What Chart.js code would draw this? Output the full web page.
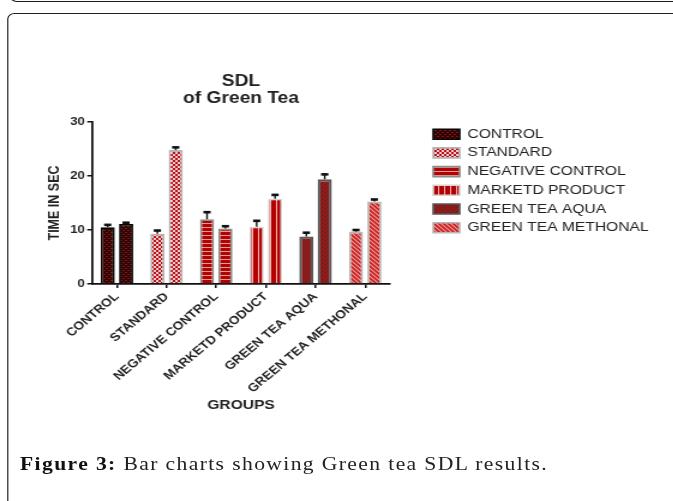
<!DOCTYPE html>
<html>
<head>
<meta charset="utf-8">
<script src="https://cdn.jsdelivr.net/npm/chart.js@4.4.1/dist/chart.umd.min.js"></script>
<style>
  html, body { margin: 0; padding: 0; background: #fff; width: 673px; height: 501px; overflow: hidden; }
  /* the whole figure is drawn 1.2x wider than tall */
  #page { position: absolute; left: 0; top: 0; width: 561px; height: 501px; transform: scaleX(1.2); transform-origin: 0 0; }
  .prev-box { position: absolute; left: 8px; top: -30px; width: 640px; height: 31.5px; box-sizing: border-box;
              border: 1.5px solid #1a1a1a; border-radius: 6px; }
  .frame { position: absolute; left: 5.5px; top: 12.5px; width: 640px; height: 600px; box-sizing: border-box;
           border: 1.5px solid #222; border-radius: 6px; }
  #chartBox { position: absolute; left: 0; top: 0; width: 561px; height: 430px; }
  .caption { position: absolute; left: 16.7px; top: 453px; font: 18px/22px "Liberation Serif", "Times New Roman", serif;
             letter-spacing: 1.15px; color: #222; white-space: nowrap; }
  .caption b { color: #111; }
</style>
</head>
<body>
<div id="page">
  <div class="prev-box"></div>
  <div class="frame"></div>
  <div id="chartBox"><canvas id="chart"></canvas></div>
  <div class="caption"><b>Figure 3:</b> Bar charts showing Green tea SDL results.</div>
</div>
<script>
// ---- data ----
const groups = ["CONTROL", "STANDARD", "NEGATIVE CONTROL", "MARKETD PRODUCT", "GREEN TEA AQUA", "GREEN TEA METHONAL"];
const seriesA = [10.5, 9.3, 12.0, 10.6, 8.8, 9.7];
const seriesB = [11.1, 24.8, 10.3, 15.8, 19.4, 15.3];
const semA = [0.45, 0.6, 1.3, 1.1, 0.7, 0.3];
const semB = [0.25, 0.5, 0.4, 0.7, 0.9, 0.35];
const yTicks = [0, 10, 20, 30];

const FAMILY = "'Liberation Sans', Arial, Helvetica, sans-serif";
const INK = '#222';

// ---- fill patterns, one per group ----
function tile(w, h, bg, paint) {
  const c = document.createElement('canvas');
  c.width = w; c.height = h;
  const g = c.getContext('2d');
  g.fillStyle = bg; g.fillRect(0, 0, w, h);
  paint(g);
  return g.createPattern(c, 'repeat');
}
function diag(g, color, width, rising) {
  g.strokeStyle = color; g.lineWidth = width; g.beginPath();
  if (rising) {
    g.moveTo(-1, 5); g.lineTo(5, -1);
    g.moveTo(-1, 1); g.lineTo(1, -1);
    g.moveTo(3, 5); g.lineTo(5, 3);
  } else {
    g.moveTo(-1, -1); g.lineTo(5, 5);
    g.moveTo(3, -1); g.lineTo(5, 1);
    g.moveTo(-1, 3); g.lineTo(1, 5);
  }
  g.stroke();
}
const fills = [
  tile(4, 4, '#2c0505', g => { g.fillStyle = '#8c1212'; g.fillRect(0, 0, 2, 1); g.fillRect(2, 2, 2, 1); }),
  tile(4, 4, '#e4d0d0', g => { g.fillStyle = '#c20c16'; g.fillRect(0, 0, 2, 2); g.fillRect(2, 2, 2, 2); }),
  tile(4, 4, '#b20202', g => { g.fillStyle = '#e69a9a'; g.fillRect(0, 3, 4, 1); }),
  tile(5, 4, '#b40000', g => { g.fillStyle = '#f0b6b6'; g.fillRect(0, 0, 1, 4); }),
  tile(4, 4, '#a51616', g => diag(g, '#5e2828', 1.2, true)),
  tile(4, 4, '#cc1e1e', g => diag(g, '#eba4a4', 1.1, false))
];
const borders = ['#050505', '#b4b4b4', '#8a8a8a', '#d4d4d4', '#585858', '#b8b8b8'];
const borderWidths = [1.8, 1.8, 1.8, 1.5, 2.2, 1.8];

// ---- legend placement: right edge padding so the legend boxes start at x = 361 ----
const LEGEND_PAD = 5.7;
const legendFont = "13px " + FAMILY;
const mctx = document.createElement('canvas').getContext('2d');
mctx.font = legendFont;
const textW = Math.max(...groups.map(t => mctx.measureText(t).width));
const legendW = LEGEND_PAD + 22 + 6.5 + textW + 10;
const padRight = Math.max(0, 561 - (361 - LEGEND_PAD) - legendW);
const gapWidth = (361 - LEGEND_PAD) - 325;

// ---- error bars (mean + SEM, upper whisker only) ----
const errorBars = {
  id: 'errorBars',
  afterDatasetsDraw(chart) {
    const { ctx } = chart;
    const y = chart.scales.y;
    const sems = [semA, semB];
    ctx.save();
    ctx.strokeStyle = '#111';
    ctx.fillStyle = '#111';
    chart.data.datasets.forEach((ds, i) => {
      chart.getDatasetMeta(i).data.forEach((bar, j) => {
        const top = y.getPixelForValue(ds.data[j] + sems[i][j]);
        ctx.lineWidth = 1.4;
        ctx.beginPath();
        ctx.moveTo(bar.x, bar.y);
        ctx.lineTo(bar.x, top);
        ctx.stroke();
        ctx.fillRect(bar.x - 3, top - 1.3, 6, 2.6);
      });
    });
    ctx.restore();
  }
};

new Chart(document.getElementById('chart'), {
  type: 'bar',
  data: {
    labels: groups,
    datasets: [
      { label: 'Series 1', data: seriesA, backgroundColor: fills, borderColor: borders, borderWidth: borderWidths },
      { label: 'Series 2', data: seriesB, backgroundColor: fills, borderColor: borders, borderWidth: borderWidths }
    ]
  },
  options: {
    responsive: true,
    maintainAspectRatio: false,
    animation: false,
    categoryPercentage: 0.74,
    barPercentage: 0.77,
    layout: { padding: { left: 10, top: 0, right: padRight, bottom: 17.2 } },
    plugins: {
      title: {
        display: true,
        text: ['SDL', 'of Green Tea'],
        fullSize: false,
        color: INK,
        font: { family: FAMILY, weight: 'bold', size: 16, lineHeight: 1.05 },
        padding: { top: 73, bottom: 15.4 }
      },
      legend: {
        position: 'right',
        align: 'start',
        fullSize: false,
        maxWidth: 400,
        onClick: null,
        labels: {
          boxWidth: 22,
          boxHeight: 10,
          padding: LEGEND_PAD,
          color: INK,
          font: { family: FAMILY, size: 13, lineHeight: 1.2 },
          generateLabels: () => groups.map((g, i) => ({
            text: g,
            fillStyle: fills[i],
            strokeStyle: borders[i],
            lineWidth: 1.6,
            fontColor: INK,
            hidden: false,
            datasetIndex: 0
          }))
        }
      },
      tooltip: { enabled: false }
    },
    scales: {
      x: {
        z: 1,
        afterFit: s => { s.height = 128.8; },
        border: { color: '#111', width: 1.8 },
        grid: { offset: false, drawOnChartArea: false, tickLength: 4, color: '#111', lineWidth: 1.5 },
        ticks: {
          autoSkip: false, maxRotation: 45, minRotation: 45, padding: 2,
          color: INK, font: { family: FAMILY, weight: 'bold', size: 11.5 }
        },
        title: {
          display: true, text: 'GROUPS', color: INK,
          font: { family: FAMILY, weight: 'bold', size: 13 },
          padding: { top: 0, bottom: 0 }
        }
      },
      y: {
        min: 0,
        max: 30,
        afterBuildTicks: s => { s.ticks = yTicks.map(v => ({ value: v })); },
        afterFit: s => { s.width = 66.7; },
        border: { color: '#111', width: 1.8 },
        grid: { drawOnChartArea: false, tickLength: 4, color: '#111', lineWidth: 1.5 },
        ticks: { padding: 2, color: INK, font: { family: FAMILY, weight: 'bold', size: 11 } },
        title: {
          display: true, text: 'TIME IN SEC', color: INK,
          font: { family: FAMILY, weight: 'bold', size: 12.5 },
          padding: { top: 28.3, bottom: 0 }
        }
      },
      gap: {
        type: 'linear',
        position: 'right',
        grid: { display: false },
        ticks: { display: false },
        border: { display: false },
        afterFit: s => { s.width = gapWidth; }
      }
    }
  },
  plugins: [errorBars]
});
</script>
</body>
</html>
